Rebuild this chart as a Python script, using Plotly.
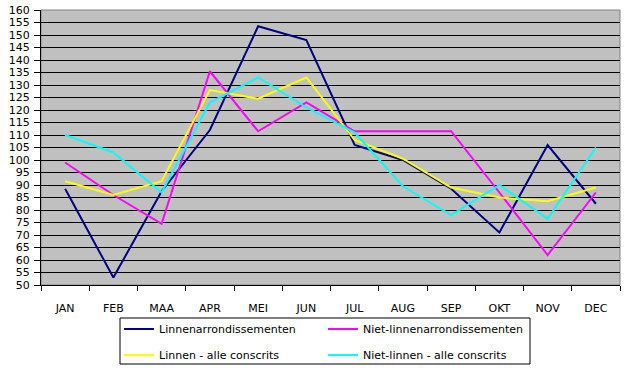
import plotly.graph_objects as go

months = ["JAN", "FEB", "MAA", "APR", "MEI", "JUN", "JUL", "AUG", "SEP", "OKT", "NOV", "DEC"]
linnen_arr = [88.5, 53, 87.5, 112, 153.5, 148, 106, 100, 88.5, 71, 106, 82.5]
niet_linnen_arr = [99, 86, 74.5, 135.5, 111.5, 123, 111.5, 111.5, 111.5, 87, 62, 87]
linnen_alle = [91.5, 86, 91.5, 128, 124.5, 133, 108, 100.5, 89, 85, 83.5, 89]
niet_linnen_alle = [110, 103, 87, 123, 133, 121, 111, 89.5, 78, 90, 76.5, 105]

series = [
    ("Linnenarrondissementen", linnen_arr, "#000080", "legend"),
    ("Niet-linnenarrondissementen", niet_linnen_arr, "#FF00FF", "legend"),
    ("Linnen - alle conscrits", linnen_alle, "#FFFF00", "legend2"),
    ("Niet-linnen - alle conscrits", niet_linnen_alle, "#00FFFF", "legend2"),
]

fig = go.Figure()
for name, vals, col, lg in series:
    fig.add_trace(go.Scatter(x=months, y=vals, name=name, mode="lines",
                             line=dict(color=col, width=2), legend=lg))

FONT = "DejaVu Sans, Verdana, sans-serif"
font = dict(family=FONT, size=11, color="black")

W, H = 624, 370
ML, MR, MT, MB = 41, 4, 10, 85
pw = W - ML - MR
ph = H - MT - MB


def px_x(p):
    return (p - ML) / pw


def px_y(p):
    return (H - MB - p) / ph


leg_common = dict(orientation="h", xanchor="left", yanchor="middle",
                  bgcolor="rgba(0,0,0,0)", borderwidth=0,
                  entrywidth=159, itemwidth=30,
                  font=dict(family=FONT, size=11, color="black"))

fig.update_layout(
    width=W, height=H,
    margin=dict(l=ML, r=MR, t=MT, b=MB, autoexpand=False),
    paper_bgcolor="white", plot_bgcolor="#C0C0C0",
    font=font,
    showlegend=True,
    legend=dict(x=px_x(119), y=px_y(329), **leg_common),
    legend2=dict(x=px_x(119), y=px_y(355), **leg_common),
    xaxis=dict(type="category", range=[-0.5, 11.5], showgrid=False, showline=True,
               linecolor="black", ticks="outside", tickson="boundaries", ticklen=5,
               tickcolor="black", ticklabelstandoff=13, zeroline=False,
               automargin=False),
    yaxis=dict(range=[50, 160], dtick=5, showgrid=True, gridcolor="black", gridwidth=1,
               showline=True, linecolor="black", ticks="outside", ticklen=6,
               tickcolor="black", ticklabelstandoff=2, zeroline=False,
               automargin=False),
    shapes=[
        dict(type="rect", xref="paper", yref="paper", x0=0, x1=1, y0=0, y1=1,
             line=dict(color="#808080", width=1), layer="below"),
        dict(type="rect", xref="paper", yref="paper",
             x0=px_x(120), x1=px_x(530), y0=px_y(364), y1=px_y(318),
             line=dict(color="black", width=1), fillcolor="white", layer="below"),
    ],
)
fig.write_html("out.html", config={"displayModeBar": False},
               post_script="document.body.style.margin='0px';")
